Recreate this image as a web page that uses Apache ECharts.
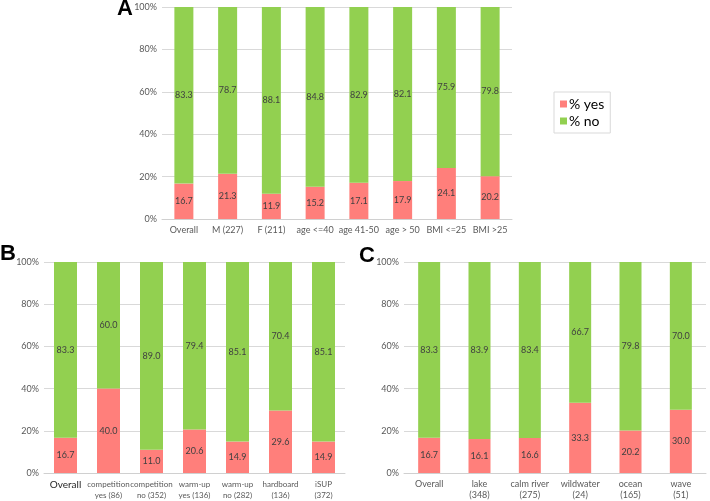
<!DOCTYPE html>
<html>
<head>
<meta charset="utf-8">
<script src="https://cdn.jsdelivr.net/npm/echarts@6/dist/echarts.min.js"></script>
<style>
  html, body { margin: 0; padding: 0; background: #fff; }
  #chart { width: 710px; height: 501px; }
</style>
</head>
<body>
<div id="chart"></div>
<script>
// panel A: demographics
const catsA = ["Overall", "M (227)", "F (211)", "age <=40", "age 41-50", "age > 50", "BMI <=25", "BMI >25"];
const yesA = [16.7, 21.3, 11.9, 15.2, 17.1, 17.9, 24.1, 20.2];
const noA = [83.3, 78.7, 88.1, 84.8, 82.9, 82.1, 75.9, 79.8];

// panel B: competition / warm-up / board
const catsB = ["Overall", "competition\nyes (86)", "competition\nno (352)", "warm-up\nyes (136)", "warm-up\nno (282)", "hardboard\n(136)", "iSUP\n(372)"];
const yesB = [16.7, 40.0, 11.0, 20.6, 14.9, 29.6, 14.9];
const noB = [83.3, 60.0, 89.0, 79.4, 85.1, 70.4, 85.1];

// panel C: water type
const catsC = ["Overall", "lake\n(348)", "calm river\n(275)", "wildwater\n(24)", "ocean\n(165)", "wave\n(51)"];
const yesC = [16.7, 16.1, 16.6, 33.3, 20.2, 30.0];
const noC = [83.3, 83.9, 83.4, 66.7, 79.8, 70.0];

const yTicks = [0, 20, 40, 60, 80, 100];

const FONT = "Lato, 'Open Sans', sans-serif";
const LETTER_FONT = "'Liberation Sans', Arial, sans-serif";
const YES_COLOR = "#ff7f7b";
const NO_COLOR = "#92d050";

const chart = echarts.init(document.getElementById("chart"));

const xAxisBase = (idx, data, size) => ({
    type: "category",
    gridIndex: idx,
    data: data,
    axisTick: { show: false },
    axisLine: { lineStyle: { color: "#d0d0d0" } },
    axisLabel: {
        interval: 0,
        color: "#595959",
        fontSize: size,
        fontFamily: FONT,
        lineHeight: 11,
        margin: 6,
        formatter: (v, i) => (idx === 1 && i === 0 ? "{big|" + v + "}" : v),
        rich: { big: { fontSize: 10, color: "#262626", fontFamily: FONT } },
    },
});

const yAxisBase = (idx) => ({
    type: "value",
    gridIndex: idx,
    min: yTicks[0],
    max: yTicks[yTicks.length - 1],
    interval: 20,
    axisLine: { show: false },
    axisTick: { show: false },
    splitLine: { lineStyle: { color: "#d9d9d9" } },
    axisLabel: {
        formatter: "{value}%",
        color: "#595959",
        fontSize: 9,
        fontFamily: FONT,
        margin: 5,
    },
});

const barLabel = {
    show: true,
    position: "inside",
    color: "#404040",
    fontSize: 9,
    fontFamily: FONT,
    formatter: (p) => p.value.toFixed(1),
};

const makeSeries = (idx, yes, no, width) => [
    {
        name: "% yes",
        type: "bar",
        stack: "s" + idx,
        xAxisIndex: idx,
        yAxisIndex: idx,
        barWidth: width,
        data: yes,
        itemStyle: { color: YES_COLOR },
        label: barLabel,
    },
    {
        name: "% no",
        type: "bar",
        stack: "s" + idx,
        xAxisIndex: idx,
        yAxisIndex: idx,
        barWidth: width,
        data: no,
        itemStyle: { color: NO_COLOR },
        label: barLabel,
    },
];

const letter = (t, left, top) => ({
    text: t,
    left: left,
    top: top,
    padding: 0,
    textStyle: { fontSize: 22, fontWeight: "bold", color: "#000", fontFamily: LETTER_FONT },
});

const option = {
    animation: false,
    textStyle: { fontFamily: FONT },
    title: [letter("A", 117, -2), letter("B", 0, 243), letter("C", 359, 245)],
    legend: {
        data: ["% yes", "% no"],
        orient: "vertical",
        left: 554,
        top: 92,
        padding: [5, 6, 5, 6],
        itemGap: 3,
        itemWidth: 7,
        itemHeight: 7,
        icon: "rect",
        borderColor: "#d9d9d9",
        borderWidth: 1,
        textStyle: { fontSize: 14, color: "#000", fontFamily: FONT, padding: [0, 0, 0, -3] },
    },
    grid: [
        { left: 162, width: 350, top: 7, height: 212 },
        { left: 44, width: 301, top: 262, height: 213 },
        { left: 404, width: 302, top: 262, height: 213 },
    ],
    xAxis: [xAxisBase(0, catsA, 9), xAxisBase(1, catsB, 8), xAxisBase(2, catsC, 9)],
    yAxis: [yAxisBase(0), yAxisBase(1), yAxisBase(2)],
    series: [
        ...makeSeries(0, yesA, noA, 19),
        ...makeSeries(1, yesB, noB, 23),
        ...makeSeries(2, yesC, noC, 22),
    ],
};

chart.setOption(option);
</script>
</body>
</html>
